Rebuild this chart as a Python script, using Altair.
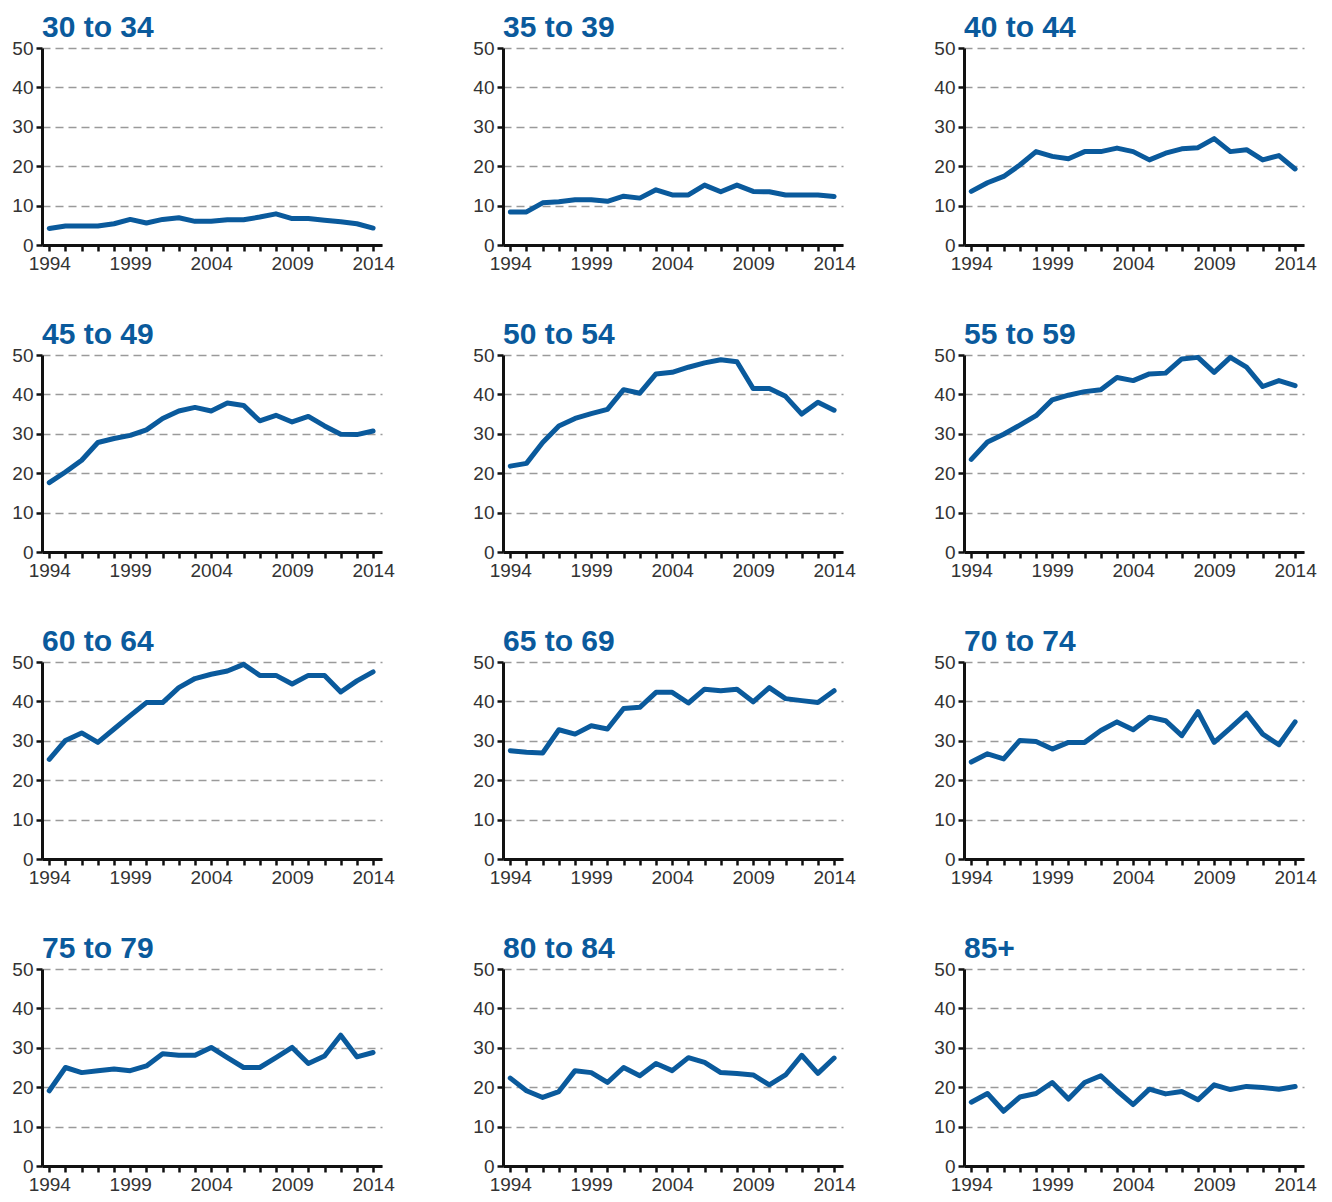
import altair as alt
import pandas as pd

years = list(range(1994, 2015))

groups = ["30 to 34", "35 to 39", "40 to 44",
          "45 to 49", "50 to 54", "55 to 59",
          "60 to 64", "65 to 69", "70 to 74",
          "75 to 79", "80 to 84", "85+"]

v30_34 = [4.2, 4.8, 4.8, 4.8, 5.4, 6.5, 5.6, 6.5, 6.9, 6.0, 6.0, 6.4, 6.4, 7.1, 7.9, 6.7, 6.7, 6.3, 5.9, 5.4, 4.3]
v35_39 = [8.4, 8.4, 10.7, 11.0, 11.5, 11.5, 11.1, 12.4, 11.9, 14.0, 12.7, 12.7, 15.2, 13.5, 15.2, 13.6, 13.5, 12.7, 12.7, 12.7, 12.3]
v40_44 = [13.6, 15.8, 17.4, 20.3, 23.7, 22.5, 21.9, 23.7, 23.7, 24.6, 23.7, 21.6, 23.3, 24.4, 24.7, 27.0, 23.7, 24.2, 21.6, 22.7, 19.3]
v45_49 = [17.6, 20.3, 23.3, 27.8, 28.8, 29.6, 31.0, 33.9, 35.8, 36.7, 35.8, 37.8, 37.2, 33.3, 34.7, 33.0, 34.4, 32.0, 29.9, 29.8, 30.7]
v50_54 = [21.8, 22.5, 27.8, 32.0, 33.9, 35.1, 36.2, 41.2, 40.3, 45.2, 45.6, 46.9, 48.0, 48.8, 48.3, 41.5, 41.5, 39.5, 35.0, 38.0, 36.0]
v55_59 = [23.5, 27.9, 29.9, 32.2, 34.6, 38.6, 39.8, 40.7, 41.2, 44.3, 43.5, 45.2, 45.4, 49.0, 49.4, 45.6, 49.4, 46.9, 42.0, 43.5, 42.2]
v60_64 = [25.3, 30.1, 32.0, 29.6, 33.0, 36.4, 39.7, 39.7, 43.5, 45.8, 46.9, 47.7, 49.4, 46.6, 46.6, 44.4, 46.6, 46.6, 42.4, 45.2, 47.5]
v65_69 = [27.5, 27.1, 26.9, 32.8, 31.7, 33.8, 33.0, 38.2, 38.5, 42.3, 42.3, 39.6, 43.1, 42.7, 43.1, 39.9, 43.5, 40.7, 40.2, 39.7, 42.7]
v70_74 = [24.6, 26.7, 25.4, 30.1, 29.8, 27.9, 29.6, 29.6, 32.6, 34.8, 32.8, 36.0, 35.1, 31.3, 37.4, 29.6, 33.2, 37.0, 31.7, 29.0, 34.8]
v75_79 = [19.1, 25.0, 23.7, 24.2, 24.6, 24.2, 25.4, 28.5, 28.1, 28.1, 30.1, 27.5, 25.0, 25.0, 27.5, 30.1, 26.0, 27.9, 33.2, 27.7, 28.8]
v80_84 = [22.3, 19.1, 17.4, 18.9, 24.2, 23.7, 21.2, 25.0, 22.9, 26.0, 24.2, 27.5, 26.3, 23.7, 23.5, 23.1, 20.6, 23.1, 28.1, 23.5, 27.4]
v85plus = [16.2, 18.4, 13.9, 17.5, 18.4, 21.2, 17.0, 21.2, 22.9, 19.1, 15.6, 19.5, 18.3, 18.9, 16.8, 20.6, 19.4, 20.2, 19.9, 19.5, 20.2]

series = [v30_34, v35_39, v40_44, v45_49, v50_54, v55_59,
          v60_64, v65_69, v70_74, v75_79, v80_84, v85plus]

y_ticks = [0, 10, 20, 30, 40, 50]

rows = []
for g, vals in zip(groups, series):
    for yr, v in zip(years, vals):
        rows.append({"group": g, "year": yr, "value": v})
df = pd.DataFrame(rows)

BLUE = "#0a5a9c"
FONT = "Liberation Sans"

base = alt.Chart(df).mark_line(
    color=BLUE, strokeWidth=5, strokeJoin="round", strokeCap="round"
).encode(
    x=alt.X("year:Q",
            scale=alt.Scale(domain=[1993.55, 2014.55], nice=False, zero=False),
            axis=alt.Axis(values=years, title=None, grid=False,
                          labelExpr="(datum.value - 1994) % 5 == 0 ? format(datum.value, 'd') : ''",
                          labelFlush=False, labelOverlap=False, labelBound=False)),
    y=alt.Y("value:Q",
            scale=alt.Scale(domain=[0, 50], nice=False),
            axis=alt.Axis(values=y_ticks, title=None, grid=True)),
).properties(width=340, height=197)

chart = base.facet(
    facet=alt.Facet("group:N", sort=groups, title=None,
                    header=alt.Header(labelFontSize=30, labelFontWeight="bold",
                                      labelColor=BLUE, labelAnchor="start",
                                      labelFont=FONT, labelPadding=-4)),
    columns=3,
    spacing={"row": 110, "column": 121},
    bounds="flush",
).resolve_axis(
    x="independent", y="independent"
).configure(
    font=FONT,
    padding={"left": 3, "top": 5, "right": 0, "bottom": 0},
).configure_view(
    stroke=None
).configure_axis(
    domainColor="#111111", domainWidth=3,
    tickColor="#111111", tickWidth=2.5, tickSize=6,
    labelColor="#333333", labelFontSize=19, labelFont=FONT,
    gridColor="#9a9a9a", gridDash=[8, 5], gridWidth=1.5,
).configure_axisX(
    labelPadding=3,
).configure_axisY(
    labelPadding=3,
)

chart.save("out.html", embed_options={"renderer": "svg", "actions": False})
